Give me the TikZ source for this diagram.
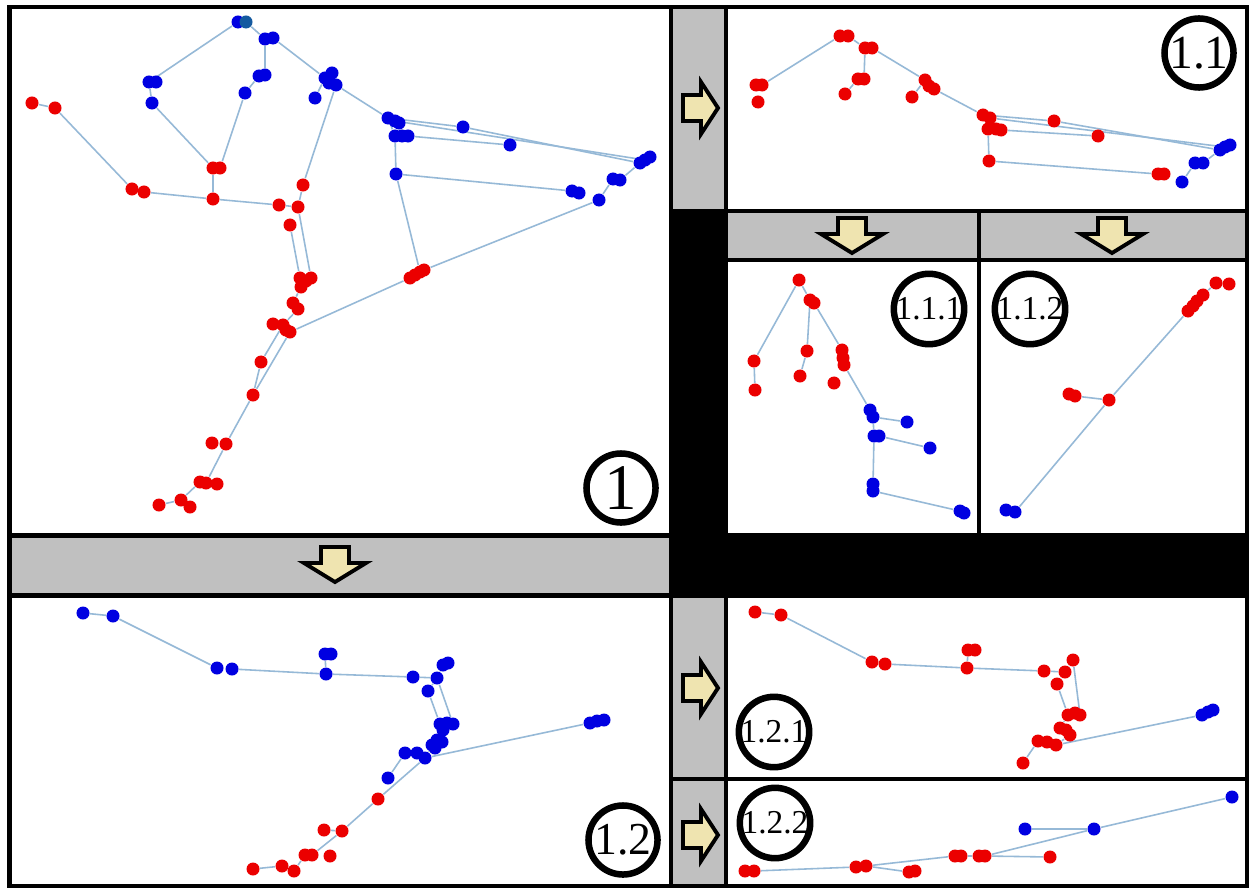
\documentclass[tikz,border=0pt]{standalone}
\usepackage{fontspec}
\setmainfont{Liberation Serif}
\pgfdeclarelayer{bg}
\pgfdeclarelayer{edges}
\pgfsetlayers{bg,edges,main}
\definecolor{dred}{RGB}{235,0,0}
\definecolor{dblue}{RGB}{0,0,225}
\definecolor{dteal}{RGB}{20,90,160}
\definecolor{barg}{RGB}{192,192,192}
\definecolor{edgec}{RGB}{150,185,215}
\definecolor{arrf}{RGB}{239,228,176}
\begin{document}
\begin{tikzpicture}[x={(0.01cm,0)},y={(0,-0.01cm)},
  rd/.style={circle,fill=dred,inner sep=0pt,minimum size=0.13cm},
  bd/.style={circle,fill=dblue,inner sep=0pt,minimum size=0.13cm},
  td/.style={circle,fill=dteal,inner sep=0pt,minimum size=0.13cm},
  edge/.style={draw=edgec,line width=0.45pt},
  panel/.style={fill=white},
  bar/.style={fill=barg},
  lab/.style={circle,draw=black,line width=0.065cm,minimum size=0.69cm,inner sep=0pt},
  arr/.style={fill=arrf,draw=black,line width=1.1pt,line join=miter},
  rarr/.pic={\draw[arr] (-17,-13) -- (1,-13) -- (1,-26) -- (18,0) -- (1,26) -- (1,13) -- (-17,13) -- cycle;},
  darr/.pic={\draw[arr] (-14,-18) -- (14,-18) -- (14,-2) -- (31,-2) -- (0,17) -- (-31,-2) -- (-14,-2) -- cycle;}
]
\useasboundingbox (0,0) rectangle (1249,888);
\begin{pgfonlayer}{bg}
\fill[white] (0,0) rectangle (1249,888);
\fill[black] (7,5) rectangle (1249,888);
% panels
\fill[panel] (12,9) rectangle (669,533);
\fill[bar] (12,538) rectangle (669,593);
\fill[panel] (12,598) rectangle (669,884);
\fill[bar] (673,9) rectangle (724,209);
\fill[panel] (728,9) rectangle (1245,209);
\fill[bar] (728,213) rectangle (977,258);
\fill[bar] (981,213) rectangle (1245,258);
\fill[panel] (728,262) rectangle (977,533);
\fill[panel] (981,262) rectangle (1245,533);
\fill[bar] (673,598) rectangle (724,777);
\fill[panel] (728,598) rectangle (1245,777);
\fill[bar] (673,781) rectangle (724,884);
\fill[panel] (728,781) rectangle (1245,884);
% arrows
\pic at (700,108) {rarr};
\pic at (700,688) {rarr};
\pic at (700,835) {rarr};
\pic at (852,236) {darr};
\pic at (1112,236) {darr};
\pic at (335,565) {darr};
\end{pgfonlayer}

% ---------- panel 1 ----------
\foreach \n/\x/\y in {a1/238/22,a2/265/39,a2b/273/38,a3/149/82,a3b/156/82,a4/152/103,a5/259/76,a5b/265/75,a6/245/93,a7/325/78,a7b/332/73,a7c/336/85,a7d/329/83,a8/315/98,a9/388/118,a9b/395/121,a9c/399/123,a10/395/136,a10b/402/136,a10c/408/136,a11/463/127,a12/510/145,a13/396/174,a14/640/163,a14b/645/160,a14c/650/157,a15/613/179,a15b/620/180,a16/572/191,a16b/579/193,a17/599/200}
  \node[bd] (\n) at (\x,\y) {};
\node[td] (a1b) at (246,22) {};
\foreach \n/\x/\y in {a20/32/103,a21/55/108,a22/132/189,a23/144/192,a24/213/168,a24b/220/168,a25/213/199,a26/279/205,a27/298/207,a28/303/185,a29/290/225,a30/300/278,a30b/306/281,a30c/311/278,a30d/301/287,a31/293/303,a31b/298/309,a32/273/324,a33/283/325,a34/286/330,a34b/290/332,a35/261/362,a36/253/395,a37/212/443,a38/226/444,a39/200/482,a39b/206/483,a40/217/484,a41/159/505,a42/181/500,a43/190/507,a44/410/278,a44b/415/275,a44c/420/272,a44d/424/270}
  \node[rd] (\n) at (\x,\y) {};

% ---------- panel 1.1 ----------
\foreach \n/\x/\y in {b1/756/85,b1b/762/85,b2/758/102,b3/840/36,b3b/848/36,b4/865/48,b4b/872/48,b5/858/79,b5b/864/79,b6/845/94,b7/925/80,b7b/929/86,b7c/934/89,b8/912/97,b9/983/115,b9b/990/118,b10/988/129,b10b/996/129,b10c/1001/130,b11/1054/121,b12/1098/136,b13/989/161,b14/1158/174,b14b/1164/174}
  \node[rd] (\n) at (\x,\y) {};
\foreach \n/\x/\y in {b15/1220/150,b15b/1225/147,b15c/1230/145,b16/1195/163,b16b/1203/163,b17/1182/182}
  \node[bd] (\n) at (\x,\y) {};

% ---------- panel 1.1.1 ----------
\foreach \n/\x/\y in {c1/799/280,c2/810/300,c2b/814/303,c3/754/361,c4/755/390,c5/807/351,c6/800/376,c7/842/350,c7b/843/358,c7c/844/365,c8/834/383}
  \node[rd] (\n) at (\x,\y) {};
\foreach \n/\x/\y in {c9/870/410,c9b/873/417,c10/907/422,c11/874/436,c11b/879/436,c12/930/448,c13/873/484,c13b/873/491,c14/960/511,c14b/964/513}
  \node[bd] (\n) at (\x,\y) {};

% ---------- panel 1.1.2 ----------
\foreach \n/\x/\y in {d1/1216/283,d2/1229/284,d3/1203/295,d4/1197/301,d5/1193/306,d6/1188/311,d7/1069/394,d7b/1075/396,d8/1109/400}
  \node[rd] (\n) at (\x,\y) {};
\foreach \n/\x/\y in {d9/1006/510,d10/1015/512}
  \node[bd] (\n) at (\x,\y) {};

% ---------- panel 1.2 ----------
\foreach \n/\x/\y in {e1/83/613,e2/113/616,e3/217/668,e4/232/669,e5/325/654,e5b/331/654,e6/326/674,e7/413/677,e8/443/665,e8b/448/663,e9/437/678,e10/428/691,e11/440/724,e11b/447/723,e11c/453/724,e11d/443/730,e12/432/745,e12b/437/740,e12c/442/742,e12d/435/748,e13/405/753,e14/417/753,e14b/425/758,e15/388/778,e16/590/723,e16b/597/721,e16c/604/720}
  \node[bd] (\n) at (\x,\y) {};
\foreach \n/\x/\y in {e17/378/799,e18/324/830,e19/342/831,e20/305/855,e20b/312/855,e21/330/856,e22/253/869,e23/282/866,e24/294/871}
  \node[rd] (\n) at (\x,\y) {};

% ---------- panel 1.2.1 ----------
\foreach \n/\x/\y in {f1/755/612,f2/781/615,f3/872/662,f4/885/664,f5/968/650,f5b/975/650,f6/967/668,f7/1044/671,f8/1073/660,f9/1065/672,f10/1057/684,f11/1068/715,f11b/1075/713,f11c/1080/715,f12/1060/728,f12b/1066/730,f12c/1070/735,f13/1038/741,f14/1047/742,f15/1056/745,f16/1023/763}
  \node[rd] (\n) at (\x,\y) {};
\foreach \n/\x/\y in {f17/1202/715,f17b/1208/712,f17c/1213/710}
  \node[bd] (\n) at (\x,\y) {};

% ---------- panel 1.2.2 ----------
\foreach \n/\x/\y in {g1/745/871,g1b/754/871,g2/856/867,g2b/866/866,g3/909/872,g3b/915/871,g4/955/856,g4b/961/856,g5/979/856,g5b/985/856,g6/1050/857}
  \node[rd] (\n) at (\x,\y) {};
\foreach \n/\x/\y in {g7/1025/829,g8/1094/829,g9/1232/797}
  \node[bd] (\n) at (\x,\y) {};

% ---------- edges ----------
\begin{pgfonlayer}{edges}
\foreach \u/\v in {a1/a3,a1b/a2,a2/a5b,a5/a6,a6/a24b,a2b/a7,a7/a8,a3/a4,a4/a24,a20/a21,a21/a22,a23/a25,a24/a25,a25/a26,a26/a27,a7c/a28,a28/a27,a29/a30,a27/a30c,a30d/a31,a31b/a33,a33/a35,a35/a36,a34b/a36,a36/a38,a38/a39b,a39/a42,a42/a41,a34b/a44,a7c/a9,a9/a11,a11/a14,a9b/a14b,a9/a10,a10c/a12,a10/a13,a13/a16,a14/a15b,a15/a17,a17/a44d,a13/a44c,
  b1b/b3,b3b/b4,b4/b5b,b5/b6,b4b/b7,b7/b8,b7c/b9,b9/b11,b11/b15,b9b/b15b,b10c/b12,b10/b13,b13/b14,b15/b16b,b16/b17,
  c1/c3,c3/c4,c1/c2,c2/c5,c5/c6,c2b/c7,c7c/c9,c9b/c10,c9b/c11,c11b/c12,c11/c13,c13b/c14,
  d6/d8,d8/d10,d7b/d8,d3/d1,
  e1/e2,e2/e3,e4/e6,e6/e5,e6/e7,e7/e9,e9/e8,e9/e10,e10/e11,e9/e11c,e11/e12b,e12/e14b,e14b/e16,e13/e15,e14b/e17,e17/e19,e19/e18,e19/e20b,e20/e24,e23/e22,
  f1/f2,f2/f3,f4/f6,f6/f5,f6/f7,f7/f9,f9/f8,f9/f10,f10/f11,f8/f11c,f11/f12,f12c/f15,f15/f17,f13/f16,
  g1b/g2,g2b/g3,g2b/g4,g4b/g5,g5b/g6,g5b/g8,g7/g8,g8/g9}
  \draw[edge] (\u) -- (\v);
\end{pgfonlayer}

% ---------- labels ----------
\node[lab,font=\fontsize{18.5}{20}\selectfont] (L1) at (621,488) {1};
\node[lab,font=\fontsize{13.5}{15}\selectfont] (L11) at (1199,53) {1.1};
\node[lab,font=\fontsize{9.5}{10}\selectfont] (L111) at (929,309) {1.1.1};
\node[lab,font=\fontsize{9.5}{10}\selectfont] (L112) at (1030,309) {1.1.2};
\node[lab,font=\fontsize{13}{15}\selectfont] (L12) at (623,840) {1.2};
\node[lab,font=\fontsize{9.5}{10}\selectfont] (L121) at (774,732) {1.2.1};
\node[lab,font=\fontsize{9.5}{10}\selectfont] (L122) at (775,823) {1.2.2};
\end{tikzpicture}
\end{document}
